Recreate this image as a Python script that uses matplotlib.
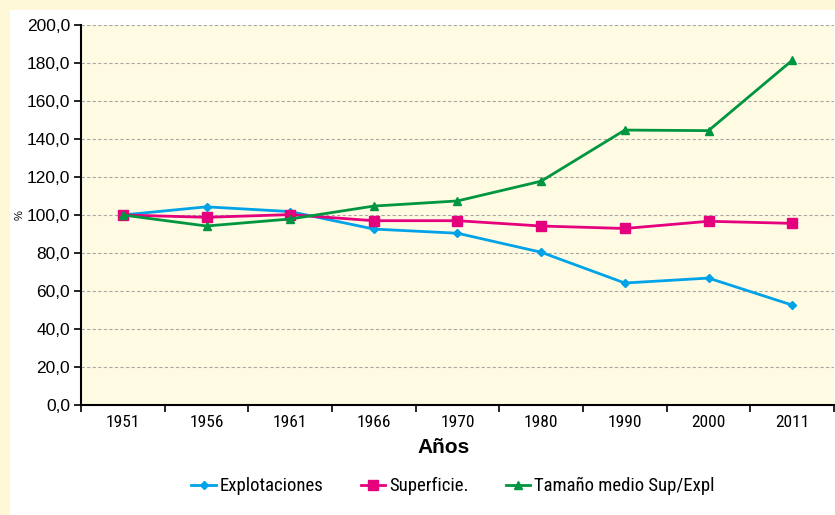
import matplotlib.pyplot as plt
import matplotlib
from matplotlib.patches import Rectangle
import numpy as np

matplotlib.rcParams['font.family'] = ['Roboto Condensed', 'DejaVu Sans']

years = ['1951', '1956', '1961', '1966', '1970', '1980', '1990', '2000', '2011']
explotaciones = [100.0, 104.3, 101.8, 92.6, 90.4, 80.4, 64.2, 66.8, 52.6]
superficie = [100.0, 98.8, 100.2, 97.0, 97.0, 94.2, 92.9, 96.7, 95.6]
tamano = [100.0, 94.2, 97.9, 104.7, 107.4, 117.8, 144.7, 144.4, 181.4]
yticks = np.arange(0, 201, 20)

fig = plt.figure(figsize=(8.35, 5.15), dpi=100, facecolor='#FFF8D8')
# panel blanco
fig.patches.append(Rectangle((10 / 835, 0), 1, 1 - 10 / 515, transform=fig.transFigure,
                             facecolor='white', edgecolor='none', zorder=-5))

ax = fig.add_axes([81 / 835, 1 - 405 / 515, 753 / 835, 380 / 515])
ax.set_facecolor('#FEFBE2')

x = np.arange(len(years))
ax.plot(x, explotaciones, color='#00A3E8', lw=2, marker='D', ms=4, label='Explotaciones', zorder=3)
ax.plot(x, superficie, color='#E5007D', lw=2, marker='s', ms=6.5, label='Superficie.', zorder=3)
ax.plot(x, tamano, color='#009640', lw=2, marker='^', ms=6, label='Tamaño medio Sup/Expl', zorder=3)

ax.set_xlim(-0.5, len(years) - 0.5)
ax.set_ylim(0, 200)
ax.set_yticks(yticks)
ax.set_yticklabels([f'{v:.1f}'.replace('.', ',') for v in yticks],
                   family=['Liberation Sans', 'DejaVu Sans'], fontsize=12.5)
ax.set_xticks(x)
ax.set_xticklabels(years, fontsize=12.5)
ax.set_xticks(np.arange(-0.5, len(years)), minor=True)
ax.tick_params(axis='x', which='major', length=0, pad=7)
ax.tick_params(axis='x', which='minor', length=5, width=1.2, direction='out')
ax.tick_params(axis='y', length=5, width=1.2, direction='out', pad=3)

ax.grid(True, axis='y', linestyle=(0, (3, 2)), color='#A8A8A8', linewidth=0.8)
ax.set_axisbelow(True)
for s in ['top', 'right']:
    ax.spines[s].set_visible(False)
for s in ['left', 'bottom']:
    ax.spines[s].set_linewidth(1.5)

ax.set_xlabel('Años', family=['Liberation Sans', 'DejaVu Sans'], fontsize=15,
              fontweight='bold')
ax.xaxis.set_label_coords(0.481, -0.113)
ax.xaxis.label.set_va('center')
fig.text(20 / 835, 1 - 215 / 515, '%', rotation=90, fontsize=8, ha='center', va='center',
         family=['Liberation Sans', 'DejaVu Sans'])

fig.legend(loc='center', bbox_to_anchor=(453 / 835, 1 - 486 / 515), ncol=3, frameon=False,
           fontsize=13.5, handlelength=1.3, handletextpad=0.2, columnspacing=2.0)

fig.savefig('out.png', dpi=100, facecolor=fig.get_facecolor())
